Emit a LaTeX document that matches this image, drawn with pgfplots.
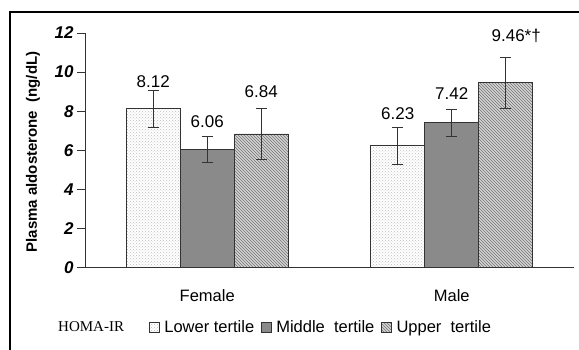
\documentclass[border=0pt]{standalone}
\usepackage{pgfplots}
\pgfplotsset{compat=1.18}
\usepackage{fontspec}
\setmainfont{Liberation Sans}
\newfontfamily\timesfont{Liberation Serif}
\usetikzlibrary{patterns}
\definecolor{midgray}{HTML}{8A8A8A}
\definecolor{hatchbg}{HTML}{D4D4D4}
\definecolor{edge}{HTML}{333333}
\begin{document}
\begin{tikzpicture}
\useasboundingbox (0pt,0pt) rectangle (579pt,350pt);
\draw[line width=1.6pt] (10pt,-5pt) -- (10pt,338pt) -- (590pt,338pt);
\begin{axis}[
  at={(85pt,82.3pt)}, anchor=south west,
  scale only axis, width=489pt, height=234.7pt,
  clip=false,
  xmin=0, xmax=2, ymin=0, ymax=12,
  axis lines*=left,
  axis line style={edge, line width=0.8pt},
  ytick={0,2,4,6,8,10,12},
  yticklabel={\textbf{\textit{\pgfmathprintnumber{\tick}}}},
  xtick={0.5,1.5}, xticklabels={Female,Male},
  major x tick style={draw=none},
  extra x ticks={0,1,2}, extra x tick labels={},
  extra x tick style={major tick length=8pt, tick style={edge, line width=0.8pt}},
  tick align=outside,
  major y tick style={edge, line width=0.8pt},
  major tick length=8pt,
  /pgf/number format/assume math mode=true,
  yticklabel style={font=\fontsize{17}{20}\selectfont},
  xticklabel style={font=\fontsize{16.5}{19}\selectfont, yshift=-10pt},
  ybar, bar width=54pt,
  legend columns=3,
  legend style={at={(rel axis cs:0.131,-0.2527)}, anchor=west, draw=none, fill=none, inner sep=0pt,
    font=\fontsize{16.5}{19}\selectfont, nodes={inner sep=2pt},
    /tikz/every odd column/.append style={column sep=2.5pt},
    /tikz/every even column/.append style={column sep=5pt}},
  legend image code/.code={\draw[#1, line width=0.6pt] (0pt,-5pt) rectangle (10pt,5pt);},
  error bars/y dir=both, error bars/y explicit,
  error bars/error bar style={edge, line width=0.9pt},
  error bars/error mark options={rotate=90, mark size=5.5pt, edge, line width=0.9pt},
]
\addplot[bar shift=-54pt, draw=edge, line width=0.8pt, fill=white, postaction={pattern=crosshatch dots, pattern color=black!25}]
  coordinates {(0.5,8.12) +- (0,0.93) (1.5,6.23) +- (0,0.95)};
\addplot[bar shift=0pt, draw=edge, line width=0.8pt, fill=midgray]
  coordinates {(0.5,6.06) +- (0,0.67) (1.5,7.42) +- (0,0.69)};
\addplot[bar shift=54pt, draw=edge, line width=0.8pt, fill=hatchbg, postaction={pattern=north west lines, pattern color=black!55}]
  coordinates {(0.5,6.84) +- (0,1.32) (1.5,9.46) +- (0,1.31)};
\legend{Lower tertile, Middle\ \ tertile, Upper\ \ tertile}
\node[font=\fontsize{17}{20}\selectfont] at (axis cs:0.5,9.51) [xshift=-54pt] {8.12};
\node[font=\fontsize{17}{20}\selectfont] at (axis cs:0.5,7.47) {6.06};
\node[font=\fontsize{17}{20}\selectfont] at (axis cs:0.5,8.98) [xshift=54pt] {6.84};
\node[font=\fontsize{17}{20}\selectfont] at (axis cs:1.5,7.86) [xshift=-54pt] {6.23};
\node[font=\fontsize{17}{20}\selectfont] at (axis cs:1.5,8.88) {7.42};
\node[font=\fontsize{17}{20}\selectfont, anchor=west, inner sep=0pt] at (axis cs:1.5,11.85) [xshift=39.7pt] {9.46*†};
\end{axis}
\node[font=\fontsize{15}{18}\selectfont\bfseries, rotate=90] at (33pt,198pt) {Plasma aldosterone\ \ (ng/dL)};
\node[font=\fontsize{15}{18}\selectfont\timesfont, anchor=west, inner sep=0pt] at (58pt,23pt) {HOMA-IR};
\end{tikzpicture}
\end{document}
